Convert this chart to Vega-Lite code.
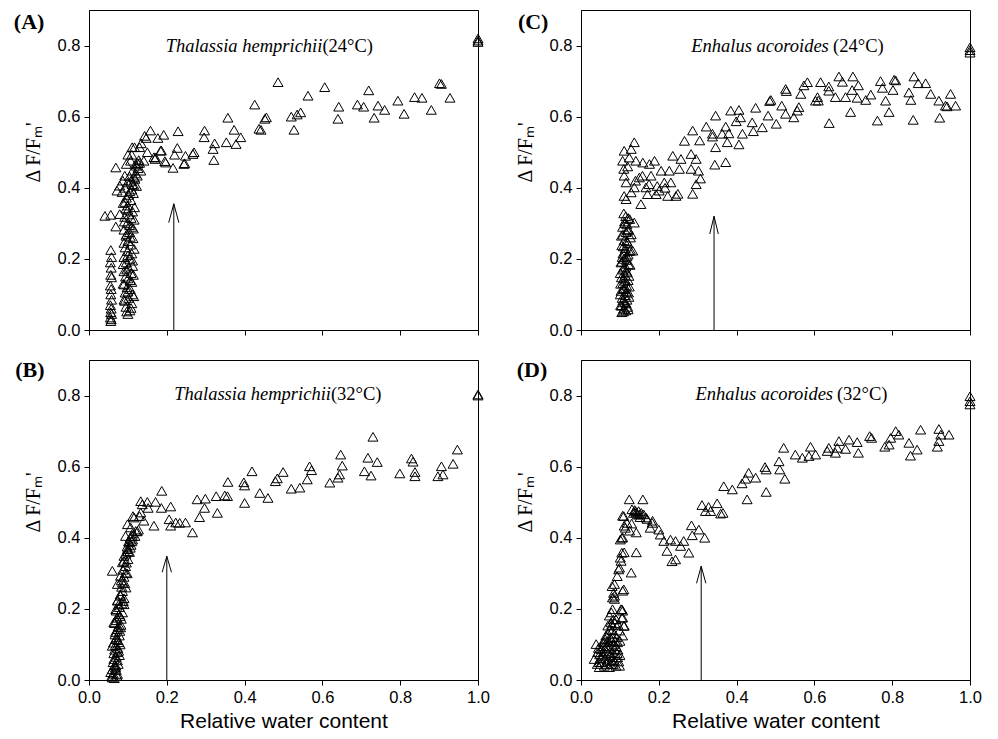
{
"$schema": "https://vega.github.io/schema/vega-lite/v6.json",
"background": "white",
"padding": {"left": 13, "top": 9, "right": 5, "bottom": 5},
"columns": 2,
"spacing": {"row": 19, "column": 24},
"datasets": {
"pts": [
{"p":"A","x":0.056,"y":0.225},{"p":"A","x":0.058,"y":0.205},{"p":"A","x":0.055,"y":0.19},{"p":"A","x":0.057,"y":0.175},{"p":"A","x":0.056,"y":0.155},{"p":"A","x":0.058,"y":0.148},{"p":"A","x":0.055,"y":0.125},{"p":"A","x":0.057,"y":0.115},{"p":"A","x":0.056,"y":0.1},{"p":"A","x":0.058,"y":0.085},{"p":"A","x":0.055,"y":0.07},{"p":"A","x":0.057,"y":0.06},{"p":"A","x":0.056,"y":0.05},{"p":"A","x":0.058,"y":0.045},{"p":"A","x":0.055,"y":0.035},{"p":"A","x":0.057,"y":0.03},{"p":"A","x":0.056,"y":0.025},
{"p":"A","x":0.041,"y":0.321},{"p":"A","x":0.056,"y":0.324},{"p":"A","x":0.069,"y":0.291},{"p":"A","x":0.079,"y":0.326},{"p":"A","x":0.072,"y":0.392},{"p":"A","x":0.079,"y":0.406},{"p":"A","x":0.069,"y":0.457},{"p":"A","x":0.087,"y":0.42},{"p":"A","x":0.092,"y":0.434},
{"p":"A","x":0.1,"y":0.045},{"p":"A","x":0.105,"y":0.055},{"p":"A","x":0.095,"y":0.065},{"p":"A","x":0.11,"y":0.075},{"p":"A","x":0.09,"y":0.085},{"p":"A","x":0.102,"y":0.09},{"p":"A","x":0.112,"y":0.1},{"p":"A","x":0.093,"y":0.105},{"p":"A","x":0.106,"y":0.115},{"p":"A","x":0.098,"y":0.12},{"p":"A","x":0.088,"y":0.13},{"p":"A","x":0.11,"y":0.135},{"p":"A","x":0.1,"y":0.145},{"p":"A","x":0.094,"y":0.15},{"p":"A","x":0.108,"y":0.16},{"p":"A","x":0.09,"y":0.165},{"p":"A","x":0.102,"y":0.175},{"p":"A","x":0.112,"y":0.18},{"p":"A","x":0.096,"y":0.19},{"p":"A","x":0.105,"y":0.2},{"p":"A","x":0.09,"y":0.205},{"p":"A","x":0.11,"y":0.215},{"p":"A","x":0.099,"y":0.222},{"p":"A","x":0.093,"y":0.232},{"p":"A","x":0.107,"y":0.24},{"p":"A","x":0.1,"y":0.25},{"p":"A","x":0.113,"y":0.258},{"p":"A","x":0.095,"y":0.265},{"p":"A","x":0.104,"y":0.275},{"p":"A","x":0.09,"y":0.282},{"p":"A","x":0.11,"y":0.29},{"p":"A","x":0.098,"y":0.3},{"p":"A","x":0.116,"y":0.31},{"p":"A","x":0.092,"y":0.318},{"p":"A","x":0.103,"y":0.325},{"p":"A","x":0.112,"y":0.333},{"p":"A","x":0.095,"y":0.342},{"p":"A","x":0.1,"y":0.35},{"p":"A","x":0.088,"y":0.357},{"p":"A","x":0.108,"y":0.365},{"p":"A","x":0.096,"y":0.372},{"p":"A","x":0.102,"y":0.38},{"p":"A","x":0.085,"y":0.388},{"p":"A","x":0.11,"y":0.395},{"p":"A","x":0.093,"y":0.4},{"p":"A","x":0.115,"y":0.408},{"p":"A","x":0.099,"y":0.415},{"p":"A","x":0.118,"y":0.425},{"p":"A","x":0.104,"y":0.432},{"p":"A","x":0.12,"y":0.44},{"p":"A","x":0.112,"y":0.448},{"p":"A","x":0.126,"y":0.455},{"p":"A","x":0.122,"y":0.462},{"p":"A","x":0.13,"y":0.47},{"p":"A","x":0.128,"y":0.478},
{"p":"A","x":0.097,"y":0.052},{"p":"A","x":0.108,"y":0.062},{"p":"A","x":0.092,"y":0.082},{"p":"A","x":0.115,"y":0.095},{"p":"A","x":0.1,"y":0.108},{"p":"A","x":0.09,"y":0.128},{"p":"A","x":0.106,"y":0.14},{"p":"A","x":0.114,"y":0.155},{"p":"A","x":0.097,"y":0.17},{"p":"A","x":0.088,"y":0.185},{"p":"A","x":0.112,"y":0.195},{"p":"A","x":0.1,"y":0.21},{"p":"A","x":0.116,"y":0.228},{"p":"A","x":0.09,"y":0.245},{"p":"A","x":0.106,"y":0.262},{"p":"A","x":0.097,"y":0.27},{"p":"A","x":0.114,"y":0.285},{"p":"A","x":0.104,"y":0.295},{"p":"A","x":0.091,"y":0.305},{"p":"A","x":0.108,"y":0.315},{"p":"A","x":0.1,"y":0.338},{"p":"A","x":0.117,"y":0.345},{"p":"A","x":0.093,"y":0.36},{"p":"A","x":0.114,"y":0.385},{"p":"A","x":0.105,"y":0.39},{"p":"A","x":0.122,"y":0.405},{"p":"A","x":0.108,"y":0.42},
{"p":"A","x":0.1,"y":0.493},{"p":"A","x":0.096,"y":0.467},{"p":"A","x":0.11,"y":0.493},{"p":"A","x":0.117,"y":0.514},{"p":"A","x":0.111,"y":0.514},{"p":"A","x":0.126,"y":0.469},{"p":"A","x":0.13,"y":0.514},{"p":"A","x":0.134,"y":0.525},{"p":"A","x":0.143,"y":0.546},{"p":"A","x":0.147,"y":0.54},{"p":"A","x":0.15,"y":0.5},{"p":"A","x":0.158,"y":0.561},{"p":"A","x":0.167,"y":0.486},{"p":"A","x":0.17,"y":0.481},{"p":"A","x":0.177,"y":0.54},{"p":"A","x":0.186,"y":0.505},{"p":"A","x":0.192,"y":0.549},{"p":"A","x":0.195,"y":0.475},{"p":"A","x":0.216,"y":0.456},{"p":"A","x":0.22,"y":0.493},{"p":"A","x":0.227,"y":0.512},{"p":"A","x":0.229,"y":0.559},{"p":"A","x":0.246,"y":0.469},{"p":"A","x":0.267,"y":0.495},{"p":"A","x":0.27,"y":0.5},{"p":"A","x":0.141,"y":0.476},{"p":"A","x":0.12,"y":0.467},{"p":"A","x":0.107,"y":0.476},{"p":"A","x":0.133,"y":0.448},{"p":"A","x":0.124,"y":0.434},{"p":"A","x":0.111,"y":0.41},{"p":"A","x":0.116,"y":0.429},{"p":"A","x":0.171,"y":0.485},{"p":"A","x":0.184,"y":0.504},{"p":"A","x":0.197,"y":0.471},{"p":"A","x":0.248,"y":0.49},{"p":"A","x":0.244,"y":0.467},
{"p":"A","x":0.296,"y":0.542},{"p":"A","x":0.297,"y":0.561},{"p":"A","x":0.319,"y":0.509},{"p":"A","x":0.321,"y":0.478},{"p":"A","x":0.323,"y":0.525},{"p":"A","x":0.353,"y":0.528},{"p":"A","x":0.357,"y":0.597},{"p":"A","x":0.373,"y":0.563},{"p":"A","x":0.378,"y":0.523},{"p":"A","x":0.39,"y":0.542},{"p":"A","x":0.426,"y":0.634},{"p":"A","x":0.437,"y":0.566},{"p":"A","x":0.442,"y":0.563},{"p":"A","x":0.452,"y":0.594},{"p":"A","x":0.456,"y":0.598},{"p":"A","x":0.486,"y":0.697},{"p":"A","x":0.52,"y":0.6},{"p":"A","x":0.527,"y":0.563},{"p":"A","x":0.535,"y":0.606},{"p":"A","x":0.544,"y":0.612},{"p":"A","x":0.563,"y":0.659},{"p":"A","x":0.606,"y":0.683},{"p":"A","x":0.64,"y":0.594},{"p":"A","x":0.642,"y":0.628},{"p":"A","x":0.69,"y":0.634},{"p":"A","x":0.706,"y":0.628},{"p":"A","x":0.719,"y":0.674},{"p":"A","x":0.733,"y":0.597},{"p":"A","x":0.743,"y":0.631},{"p":"A","x":0.76,"y":0.619},{"p":"A","x":0.794,"y":0.645},{"p":"A","x":0.81,"y":0.608},{"p":"A","x":0.837,"y":0.655},{"p":"A","x":0.856,"y":0.653},{"p":"A","x":0.88,"y":0.619},{"p":"A","x":0.901,"y":0.694},{"p":"A","x":0.906,"y":0.692},{"p":"A","x":0.928,"y":0.653},{"p":"A","x":1.0,"y":0.81},{"p":"A","x":1.0,"y":0.814},{"p":"A","x":1.0,"y":0.82},

{"p":"C","x":0.105,"y":0.05},{"p":"C","x":0.115,"y":0.055},{"p":"C","x":0.11,"y":0.06},{"p":"C","x":0.12,"y":0.065},{"p":"C","x":0.102,"y":0.07},{"p":"C","x":0.112,"y":0.078},{"p":"C","x":0.118,"y":0.085},{"p":"C","x":0.106,"y":0.09},{"p":"C","x":0.114,"y":0.098},{"p":"C","x":0.122,"y":0.105},{"p":"C","x":0.103,"y":0.11},{"p":"C","x":0.11,"y":0.118},{"p":"C","x":0.117,"y":0.125},{"p":"C","x":0.108,"y":0.132},{"p":"C","x":0.121,"y":0.14},{"p":"C","x":0.104,"y":0.148},{"p":"C","x":0.113,"y":0.155},{"p":"C","x":0.119,"y":0.162},{"p":"C","x":0.107,"y":0.17},{"p":"C","x":0.115,"y":0.178},{"p":"C","x":0.122,"y":0.185},{"p":"C","x":0.105,"y":0.192},{"p":"C","x":0.111,"y":0.2},{"p":"C","x":0.118,"y":0.207},{"p":"C","x":0.108,"y":0.215},{"p":"C","x":0.124,"y":0.222},{"p":"C","x":0.114,"y":0.23},{"p":"C","x":0.105,"y":0.238},{"p":"C","x":0.12,"y":0.245},{"p":"C","x":0.111,"y":0.252},{"p":"C","x":0.127,"y":0.26},{"p":"C","x":0.108,"y":0.268},{"p":"C","x":0.116,"y":0.275},{"p":"C","x":0.122,"y":0.283},{"p":"C","x":0.107,"y":0.29},{"p":"C","x":0.118,"y":0.297},{"p":"C","x":0.112,"y":0.305},{"p":"C","x":0.125,"y":0.312},{"p":"C","x":0.115,"y":0.32},{"p":"C","x":0.11,"y":0.328},{"p":"C","x":0.137,"y":0.302},{"p":"C","x":0.133,"y":0.223},{"p":"C","x":0.129,"y":0.269},{"p":"C","x":0.127,"y":0.225},
{"p":"C","x":0.109,"y":0.052},{"p":"C","x":0.121,"y":0.058},{"p":"C","x":0.104,"y":0.068},{"p":"C","x":0.116,"y":0.075},{"p":"C","x":0.108,"y":0.083},{"p":"C","x":0.123,"y":0.093},{"p":"C","x":0.101,"y":0.1},{"p":"C","x":0.117,"y":0.108},{"p":"C","x":0.109,"y":0.115},{"p":"C","x":0.124,"y":0.122},{"p":"C","x":0.102,"y":0.13},{"p":"C","x":0.114,"y":0.138},{"p":"C","x":0.11,"y":0.145},{"p":"C","x":0.123,"y":0.152},{"p":"C","x":0.101,"y":0.16},{"p":"C","x":0.116,"y":0.167},{"p":"C","x":0.11,"y":0.175},{"p":"C","x":0.126,"y":0.183},{"p":"C","x":0.103,"y":0.19},{"p":"C","x":0.117,"y":0.197},{"p":"C","x":0.106,"y":0.205},{"p":"C","x":0.121,"y":0.212},{"p":"C","x":0.112,"y":0.22},{"p":"C","x":0.109,"y":0.235},{"p":"C","x":0.118,"y":0.25},{"p":"C","x":0.104,"y":0.265},{"p":"C","x":0.12,"y":0.28},{"p":"C","x":0.113,"y":0.3},{"p":"C","x":0.121,"y":0.315},
{"p":"C","x":0.111,"y":0.504},{"p":"C","x":0.137,"y":0.528},{"p":"C","x":0.129,"y":0.509},{"p":"C","x":0.107,"y":0.476},{"p":"C","x":0.124,"y":0.485},{"p":"C","x":0.141,"y":0.476},{"p":"C","x":0.159,"y":0.471},{"p":"C","x":0.176,"y":0.467},{"p":"C","x":0.189,"y":0.476},{"p":"C","x":0.11,"y":0.453},{"p":"C","x":0.111,"y":0.434},{"p":"C","x":0.116,"y":0.415},{"p":"C","x":0.111,"y":0.377},{"p":"C","x":0.116,"y":0.368},{"p":"C","x":0.129,"y":0.387},{"p":"C","x":0.154,"y":0.354},{"p":"C","x":0.137,"y":0.401},{"p":"C","x":0.15,"y":0.429},{"p":"C","x":0.167,"y":0.401},{"p":"C","x":0.18,"y":0.434},{"p":"C","x":0.171,"y":0.382},{"p":"C","x":0.193,"y":0.382},{"p":"C","x":0.201,"y":0.392},{"p":"C","x":0.206,"y":0.448},{"p":"C","x":0.214,"y":0.415},{"p":"C","x":0.227,"y":0.448},{"p":"C","x":0.231,"y":0.415},{"p":"C","x":0.223,"y":0.377},{"p":"C","x":0.244,"y":0.377},{"p":"C","x":0.236,"y":0.49},{"p":"C","x":0.249,"y":0.383},{"p":"C","x":0.257,"y":0.481},{"p":"C","x":0.253,"y":0.453},{"p":"C","x":0.283,"y":0.453},{"p":"C","x":0.283,"y":0.495},{"p":"C","x":0.296,"y":0.481},{"p":"C","x":0.296,"y":0.41},{"p":"C","x":0.287,"y":0.383},{"p":"C","x":0.266,"y":0.532},{"p":"C","x":0.287,"y":0.561},{"p":"C","x":0.12,"y":0.46},{"p":"C","x":0.14,"y":0.42},{"p":"C","x":0.158,"y":0.434},{"p":"C","x":0.175,"y":0.41},{"p":"C","x":0.196,"y":0.405},{"p":"C","x":0.216,"y":0.4},
{"p":"C","x":0.305,"y":0.533},{"p":"C","x":0.322,"y":0.572},{"p":"C","x":0.338,"y":0.552},{"p":"C","x":0.338,"y":0.544},{"p":"C","x":0.346,"y":0.603},{"p":"C","x":0.346,"y":0.514},{"p":"C","x":0.344,"y":0.465},{"p":"C","x":0.372,"y":0.472},{"p":"C","x":0.372,"y":0.572},{"p":"C","x":0.38,"y":0.553},{"p":"C","x":0.363,"y":0.552},{"p":"C","x":0.376,"y":0.528},{"p":"C","x":0.385,"y":0.617},{"p":"C","x":0.406,"y":0.522},{"p":"C","x":0.302,"y":0.448},{"p":"C","x":0.307,"y":0.426},
{"p":"C","x":0.399,"y":0.587},{"p":"C","x":0.406,"y":0.619},{"p":"C","x":0.41,"y":0.598},{"p":"C","x":0.415,"y":0.552},{"p":"C","x":0.44,"y":0.584},{"p":"C","x":0.443,"y":0.559},{"p":"C","x":0.449,"y":0.625},{"p":"C","x":0.466,"y":0.57},{"p":"C","x":0.481,"y":0.603},{"p":"C","x":0.485,"y":0.644},{"p":"C","x":0.488,"y":0.647},{"p":"C","x":0.502,"y":0.58},{"p":"C","x":0.516,"y":0.631},{"p":"C","x":0.526,"y":0.608},{"p":"C","x":0.526,"y":0.678},{"p":"C","x":0.528,"y":0.672},{"p":"C","x":0.547,"y":0.598},{"p":"C","x":0.556,"y":0.617},{"p":"C","x":0.56,"y":0.627},{"p":"C","x":0.565,"y":0.664},{"p":"C","x":0.573,"y":0.688},{"p":"C","x":0.582,"y":0.697},{"p":"C","x":0.603,"y":0.645},{"p":"C","x":0.608,"y":0.655},{"p":"C","x":0.61,"y":0.645},{"p":"C","x":0.616,"y":0.697},{"p":"C","x":0.637,"y":0.685},{"p":"C","x":0.637,"y":0.673},{"p":"C","x":0.638,"y":0.582},{"p":"C","x":0.654,"y":0.655},{"p":"C","x":0.663,"y":0.713},{"p":"C","x":0.672,"y":0.698},{"p":"C","x":0.68,"y":0.655},{"p":"C","x":0.693,"y":0.613},{"p":"C","x":0.697,"y":0.675},{"p":"C","x":0.699,"y":0.713},{"p":"C","x":0.71,"y":0.653},{"p":"C","x":0.713,"y":0.688},{"p":"C","x":0.732,"y":0.647},{"p":"C","x":0.745,"y":0.662},{"p":"C","x":0.762,"y":0.589},{"p":"C","x":0.77,"y":0.7},{"p":"C","x":0.775,"y":0.681},{"p":"C","x":0.783,"y":0.645},{"p":"C","x":0.792,"y":0.613},{"p":"C","x":0.802,"y":0.675},{"p":"C","x":0.805,"y":0.704},{"p":"C","x":0.809,"y":0.702},{"p":"C","x":0.843,"y":0.668},{"p":"C","x":0.848,"y":0.647},{"p":"C","x":0.854,"y":0.591},{"p":"C","x":0.856,"y":0.713},{"p":"C","x":0.867,"y":0.694},{"p":"C","x":0.886,"y":0.694},{"p":"C","x":0.899,"y":0.664},{"p":"C","x":0.92,"y":0.645},{"p":"C","x":0.922,"y":0.597},{"p":"C","x":0.937,"y":0.631},{"p":"C","x":0.941,"y":0.629},{"p":"C","x":0.95,"y":0.664},{"p":"C","x":0.963,"y":0.631},{"p":"C","x":1.0,"y":0.78},{"p":"C","x":1.0,"y":0.787},{"p":"C","x":1.0,"y":0.795},

{"p":"B","x":0.058,"y":0.01},{"p":"B","x":0.065,"y":0.005},{"p":"B","x":0.072,"y":0.012},{"p":"B","x":0.06,"y":0.03},{"p":"B","x":0.068,"y":0.035},{"p":"B","x":0.075,"y":0.045},{"p":"B","x":0.062,"y":0.05},{"p":"B","x":0.07,"y":0.065},{"p":"B","x":0.078,"y":0.07},{"p":"B","x":0.066,"y":0.085},{"p":"B","x":0.074,"y":0.09},{"p":"B","x":0.08,"y":0.1},{"p":"B","x":0.063,"y":0.105},{"p":"B","x":0.071,"y":0.12},{"p":"B","x":0.078,"y":0.125},{"p":"B","x":0.068,"y":0.135},{"p":"B","x":0.075,"y":0.15},{"p":"B","x":0.082,"y":0.155},{"p":"B","x":0.066,"y":0.16},{"p":"B","x":0.072,"y":0.175},{"p":"B","x":0.08,"y":0.18},{"p":"B","x":0.086,"y":0.19},{"p":"B","x":0.07,"y":0.195},{"p":"B","x":0.078,"y":0.205},{"p":"B","x":0.084,"y":0.215},{"p":"B","x":0.074,"y":0.225},{"p":"B","x":0.09,"y":0.23},{"p":"B","x":0.08,"y":0.24},{"p":"B","x":0.086,"y":0.25},{"p":"B","x":0.095,"y":0.26},{"p":"B","x":0.083,"y":0.28},{"p":"B","x":0.09,"y":0.29},{"p":"B","x":0.098,"y":0.3},{"p":"B","x":0.087,"y":0.31},{"p":"B","x":0.094,"y":0.32},{"p":"B","x":0.09,"y":0.335},{"p":"B","x":0.1,"y":0.34},{"p":"B","x":0.095,"y":0.355},{"p":"B","x":0.104,"y":0.36},{"p":"B","x":0.098,"y":0.375},{"p":"B","x":0.108,"y":0.38},{"p":"B","x":0.102,"y":0.39},{"p":"B","x":0.112,"y":0.395},{"p":"B","x":0.106,"y":0.4},{"p":"B","x":0.118,"y":0.405},{"p":"B","x":0.112,"y":0.412},{"p":"B","x":0.124,"y":0.418},
{"p":"B","x":0.062,"y":0.018},{"p":"B","x":0.07,"y":0.028},{"p":"B","x":0.066,"y":0.042},{"p":"B","x":0.073,"y":0.055},{"p":"B","x":0.064,"y":0.075},{"p":"B","x":0.076,"y":0.082},{"p":"B","x":0.068,"y":0.098},{"p":"B","x":0.074,"y":0.112},{"p":"B","x":0.067,"y":0.128},{"p":"B","x":0.079,"y":0.138},{"p":"B","x":0.07,"y":0.168},{"p":"B","x":0.083,"y":0.172},{"p":"B","x":0.076,"y":0.212},{"p":"B","x":0.088,"y":0.222},{"p":"B","x":0.084,"y":0.262},{"p":"B","x":0.092,"y":0.272},{"p":"B","x":0.096,"y":0.33},{"p":"B","x":0.1,"y":0.362},{"p":"B","x":0.106,"y":0.372},{"p":"B","x":0.11,"y":0.39},
{"p":"B","x":0.06,"y":0.307},{"p":"B","x":0.073,"y":0.27},{"p":"B","x":0.081,"y":0.237},{"p":"B","x":0.09,"y":0.213},{"p":"B","x":0.073,"y":0.223},{"p":"B","x":0.069,"y":0.199},{"p":"B","x":0.077,"y":0.185},{"p":"B","x":0.064,"y":0.162},{"p":"B","x":0.073,"y":0.143},{"p":"B","x":0.081,"y":0.148},{"p":"B","x":0.069,"y":0.115},{"p":"B","x":0.077,"y":0.106},{"p":"B","x":0.06,"y":0.096},{"p":"B","x":0.073,"y":0.078},{"p":"B","x":0.064,"y":0.059},{"p":"B","x":0.069,"y":0.04},{"p":"B","x":0.056,"y":0.022},{"p":"B","x":0.073,"y":0.017},{"p":"B","x":0.06,"y":0.007},{"p":"B","x":0.081,"y":0.293},{"p":"B","x":0.086,"y":0.274},{"p":"B","x":0.094,"y":0.302},{"p":"B","x":0.086,"y":0.331},{"p":"B","x":0.09,"y":0.349},{"p":"B","x":0.099,"y":0.368},{"p":"B","x":0.103,"y":0.387},{"p":"B","x":0.111,"y":0.405},{"p":"B","x":0.094,"y":0.405},{"p":"B","x":0.12,"y":0.419},{"p":"B","x":0.107,"y":0.429},{"p":"B","x":0.099,"y":0.438},{"p":"B","x":0.116,"y":0.457},{"p":"B","x":0.133,"y":0.471},{"p":"B","x":0.137,"y":0.494},{"p":"B","x":0.15,"y":0.501},{"p":"B","x":0.133,"y":0.503},{"p":"B","x":0.171,"y":0.501},{"p":"B","x":0.187,"y":0.532},{"p":"B","x":0.141,"y":0.448},{"p":"B","x":0.167,"y":0.434},{"p":"B","x":0.21,"y":0.488},{"p":"B","x":0.206,"y":0.452},{"p":"B","x":0.21,"y":0.434},{"p":"B","x":0.223,"y":0.443},{"p":"B","x":0.248,"y":0.443},{"p":"B","x":0.266,"y":0.415},
{"p":"B","x":0.113,"y":0.461},{"p":"B","x":0.127,"y":0.423},{"p":"B","x":0.13,"y":0.461},{"p":"B","x":0.152,"y":0.484},{"p":"B","x":0.186,"y":0.484},{"p":"B","x":0.233,"y":0.442},{"p":"B","x":0.278,"y":0.508},{"p":"B","x":0.284,"y":0.458},{"p":"B","x":0.297,"y":0.484},{"p":"B","x":0.299,"y":0.51},{"p":"B","x":0.327,"y":0.517},{"p":"B","x":0.33,"y":0.47},{"p":"B","x":0.349,"y":0.519},{"p":"B","x":0.356,"y":0.517},{"p":"B","x":0.357,"y":0.557},{"p":"B","x":0.398,"y":0.556},{"p":"B","x":0.4,"y":0.547},{"p":"B","x":0.4,"y":0.498},{"p":"B","x":0.419,"y":0.587},{"p":"B","x":0.439,"y":0.526},{"p":"B","x":0.46,"y":0.512},{"p":"B","x":0.479,"y":0.559},{"p":"B","x":0.484,"y":0.567},{"p":"B","x":0.499,"y":0.585},{"p":"B","x":0.52,"y":0.538},{"p":"B","x":0.542,"y":0.541},{"p":"B","x":0.561,"y":0.564},{"p":"B","x":0.567,"y":0.601},{"p":"B","x":0.572,"y":0.59},{"p":"B","x":0.619,"y":0.555},{"p":"B","x":0.64,"y":0.569},{"p":"B","x":0.644,"y":0.578},{"p":"B","x":0.647,"y":0.634},{"p":"B","x":0.651,"y":0.603},{"p":"B","x":0.708,"y":0.587},{"p":"B","x":0.717,"y":0.625},{"p":"B","x":0.725,"y":0.575},{"p":"B","x":0.73,"y":0.684},{"p":"B","x":0.741,"y":0.613},{"p":"B","x":0.799,"y":0.581},{"p":"B","x":0.829,"y":0.623},{"p":"B","x":0.833,"y":0.614},{"p":"B","x":0.838,"y":0.585},{"p":"B","x":0.838,"y":0.573},{"p":"B","x":0.897,"y":0.573},{"p":"B","x":0.906,"y":0.601},{"p":"B","x":0.91,"y":0.578},{"p":"B","x":0.936,"y":0.608},{"p":"B","x":0.947,"y":0.648},{"p":"B","x":1.0,"y":0.803},{"p":"B","x":1.0,"y":0.8},

{"p":"D","x":0.039,"y":0.101},{"p":"D","x":0.043,"y":0.078},{"p":"D","x":0.047,"y":0.05},{"p":"D","x":0.047,"y":0.036},{"p":"D","x":0.056,"y":0.068},{"p":"D","x":0.06,"y":0.106},{"p":"D","x":0.064,"y":0.125},{"p":"D","x":0.069,"y":0.153},{"p":"D","x":0.073,"y":0.181},{"p":"D","x":0.081,"y":0.199},{"p":"D","x":0.086,"y":0.237},{"p":"D","x":0.086,"y":0.228},{"p":"D","x":0.107,"y":0.195},{"p":"D","x":0.111,"y":0.153},{"p":"D","x":0.107,"y":0.125},{"p":"D","x":0.094,"y":0.106},{"p":"D","x":0.086,"y":0.087},{"p":"D","x":0.081,"y":0.064},{"p":"D","x":0.09,"y":0.04},{"p":"D","x":0.077,"y":0.045},{"p":"D","x":0.069,"y":0.054},{"p":"D","x":0.06,"y":0.04},{"p":"D","x":0.051,"y":0.087},{"p":"D","x":0.073,"y":0.106},{"p":"D","x":0.064,"y":0.082},{"p":"D","x":0.081,"y":0.12},{"p":"D","x":0.099,"y":0.139},{"p":"D","x":0.077,"y":0.162},{"p":"D","x":0.09,"y":0.171},{"p":"D","x":0.094,"y":0.064},{"p":"D","x":0.099,"y":0.04},{"p":"D","x":0.034,"y":0.059},{"p":"D","x":0.073,"y":0.036},{"p":"D","x":0.086,"y":0.054},{"p":"D","x":0.056,"y":0.106},{"p":"D","x":0.045,"y":0.09},{"p":"D","x":0.065,"y":0.095},{"p":"D","x":0.075,"y":0.07},{"p":"D","x":0.085,"y":0.1},{"p":"D","x":0.095,"y":0.085},{"p":"D","x":0.07,"y":0.13},{"p":"D","x":0.08,"y":0.14},{"p":"D","x":0.092,"y":0.12},{"p":"D","x":0.062,"y":0.06},{"p":"D","x":0.052,"y":0.05},{"p":"D","x":0.1,"y":0.07},{"p":"D","x":0.083,"y":0.17},{"p":"D","x":0.078,"y":0.19},
{"p":"D","x":0.042,"y":0.045},{"p":"D","x":0.05,"y":0.062},{"p":"D","x":0.058,"y":0.08},{"p":"D","x":0.066,"y":0.045},{"p":"D","x":0.072,"y":0.09},{"p":"D","x":0.079,"y":0.055},{"p":"D","x":0.084,"y":0.075},{"p":"D","x":0.09,"y":0.095},{"p":"D","x":0.097,"y":0.052},{"p":"D","x":0.088,"y":0.11},{"p":"D","x":0.076,"y":0.118},{"p":"D","x":0.068,"y":0.11},{"p":"D","x":0.058,"y":0.095},{"p":"D","x":0.048,"y":0.072},{"p":"D","x":0.083,"y":0.045},{"p":"D","x":0.093,"y":0.075},{"p":"D","x":0.071,"y":0.075},{"p":"D","x":0.062,"y":0.115},{"p":"D","x":0.085,"y":0.13},{"p":"D","x":0.079,"y":0.155},{"p":"D","x":0.087,"y":0.16},{"p":"D","x":0.074,"y":0.142},{"p":"D","x":0.095,"y":0.155},{"p":"D","x":0.1,"y":0.11},
{"p":"D","x":0.084,"y":0.245},{"p":"D","x":0.08,"y":0.264},{"p":"D","x":0.093,"y":0.292},{"p":"D","x":0.097,"y":0.311},{"p":"D","x":0.105,"y":0.199},{"p":"D","x":0.105,"y":0.175},{"p":"D","x":0.11,"y":0.152},{"p":"D","x":0.11,"y":0.255},{"p":"D","x":0.124,"y":0.508},{"p":"D","x":0.159,"y":0.508},{"p":"D","x":0.107,"y":0.462},{"p":"D","x":0.142,"y":0.471},{"p":"D","x":0.15,"y":0.466},{"p":"D","x":0.167,"y":0.457},{"p":"D","x":0.184,"y":0.448},{"p":"D","x":0.111,"y":0.434},{"p":"D","x":0.107,"y":0.401},{"p":"D","x":0.142,"y":0.415},{"p":"D","x":0.111,"y":0.359},{"p":"D","x":0.142,"y":0.359},{"p":"D","x":0.103,"y":0.335},{"p":"D","x":0.099,"y":0.316},{"p":"D","x":0.129,"y":0.302},{"p":"D","x":0.086,"y":0.27},{"p":"D","x":0.107,"y":0.251},{"p":"D","x":0.081,"y":0.232},{"p":"D","x":0.103,"y":0.199},{"p":"D","x":0.107,"y":0.176},{"p":"D","x":0.105,"y":0.4},{"p":"D","x":0.101,"y":0.344},{"p":"D","x":0.101,"y":0.395},{"p":"D","x":0.105,"y":0.358},{"p":"D","x":0.118,"y":0.442},{"p":"D","x":0.114,"y":0.428},{"p":"D","x":0.11,"y":0.461},{"p":"D","x":0.131,"y":0.48},{"p":"D","x":0.14,"y":0.475},{"p":"D","x":0.148,"y":0.475},{"p":"D","x":0.161,"y":0.466},{"p":"D","x":0.17,"y":0.453},{"p":"D","x":0.178,"y":0.428},{"p":"D","x":0.183,"y":0.442},{"p":"D","x":0.135,"y":0.47},{"p":"D","x":0.145,"y":0.465},{"p":"D","x":0.155,"y":0.47},{"p":"D","x":0.138,"y":0.478},{"p":"D","x":0.152,"y":0.458},{"p":"D","x":0.125,"y":0.42},{"p":"D","x":0.13,"y":0.44},
{"p":"D","x":0.2,"y":0.423},{"p":"D","x":0.204,"y":0.409},{"p":"D","x":0.213,"y":0.391},{"p":"D","x":0.221,"y":0.363},{"p":"D","x":0.23,"y":0.395},{"p":"D","x":0.234,"y":0.334},{"p":"D","x":0.243,"y":0.339},{"p":"D","x":0.243,"y":0.391},{"p":"D","x":0.256,"y":0.377},{"p":"D","x":0.264,"y":0.391},{"p":"D","x":0.277,"y":0.358},{"p":"D","x":0.286,"y":0.407},{"p":"D","x":0.284,"y":0.435},{"p":"D","x":0.303,"y":0.423},{"p":"D","x":0.318,"y":0.4},{"p":"D","x":0.311,"y":0.492},{"p":"D","x":0.32,"y":0.475},{"p":"D","x":0.328,"y":0.487},{"p":"D","x":0.333,"y":0.475},{"p":"D","x":0.35,"y":0.497},{"p":"D","x":0.359,"y":0.468},{"p":"D","x":0.365,"y":0.47},{"p":"D","x":0.367,"y":0.545},{"p":"D","x":0.389,"y":0.536},{"p":"D","x":0.414,"y":0.553},{"p":"D","x":0.423,"y":0.566},{"p":"D","x":0.427,"y":0.508},{"p":"D","x":0.431,"y":0.583},{"p":"D","x":0.449,"y":0.569},{"p":"D","x":0.473,"y":0.599},{"p":"D","x":0.476,"y":0.592},{"p":"D","x":0.476,"y":0.529},{"p":"D","x":0.509,"y":0.615},{"p":"D","x":0.511,"y":0.592},{"p":"D","x":0.521,"y":0.653},{"p":"D","x":0.524,"y":0.566},{"p":"D","x":0.551,"y":0.634},{"p":"D","x":0.569,"y":0.625},{"p":"D","x":0.586,"y":0.63},{"p":"D","x":0.59,"y":0.656},{"p":"D","x":0.603,"y":0.634},{"p":"D","x":0.633,"y":0.644},{"p":"D","x":0.637,"y":0.653},{"p":"D","x":0.654,"y":0.639},{"p":"D","x":0.659,"y":0.653},{"p":"D","x":0.663,"y":0.672},{"p":"D","x":0.68,"y":0.65},{"p":"D","x":0.689,"y":0.676},{"p":"D","x":0.71,"y":0.669},{"p":"D","x":0.713,"y":0.639},{"p":"D","x":0.742,"y":0.686},{"p":"D","x":0.747,"y":0.681},{"p":"D","x":0.781,"y":0.656},{"p":"D","x":0.792,"y":0.662},{"p":"D","x":0.796,"y":0.681},{"p":"D","x":0.809,"y":0.7},{"p":"D","x":0.817,"y":0.69},{"p":"D","x":0.843,"y":0.667},{"p":"D","x":0.847,"y":0.631},{"p":"D","x":0.864,"y":0.648},{"p":"D","x":0.873,"y":0.704},{"p":"D","x":0.916,"y":0.656},{"p":"D","x":0.92,"y":0.672},{"p":"D","x":0.92,"y":0.706},{"p":"D","x":0.925,"y":0.69},{"p":"D","x":0.946,"y":0.69},{"p":"D","x":1.0,"y":0.775},{"p":"D","x":1.0,"y":0.784},{"p":"D","x":1.0,"y":0.798}
],
"arrows": [
{"p":"A","x":0.218,"y":0,"x2":0.218,"y2":0.355},{"p":"A","x":0.218,"y":0.355,"x2":0.205,"y2":0.302},{"p":"A","x":0.218,"y":0.355,"x2":0.231,"y2":0.302},
{"p":"B","x":0.2,"y":0,"x2":0.2,"y2":0.348},{"p":"B","x":0.2,"y":0.348,"x2":0.188,"y2":0.303},{"p":"B","x":0.2,"y":0.348,"x2":0.212,"y2":0.303},
{"p":"C","x":0.342,"y":0,"x2":0.342,"y2":0.32},{"p":"C","x":0.342,"y":0.32,"x2":0.331,"y2":0.27},{"p":"C","x":0.342,"y":0.32,"x2":0.353,"y2":0.27},
{"p":"D","x":0.309,"y":0,"x2":0.309,"y2":0.32},{"p":"D","x":0.309,"y":0.32,"x2":0.297,"y2":0.272},{"p":"D","x":0.309,"y":0.32,"x2":0.321,"y2":0.272}
],
"ann": [
{"p":"A","xs":0.6,"xt":0.6,"y":0.8,"species":"Thalassia hemprichii","temp":"(24°C)","lx":-0.154,"ly":0.865,"label":"(A)"},
{"p":"B","xs":0.622,"xt":0.622,"y":0.805,"species":"Thalassia hemprichii","temp":"(32°C)","lx":-0.152,"ly":0.871,"label":"(B)"},
{"p":"C","xs":0.637,"xt":0.648,"y":0.8,"species":"Enhalus acoroides","temp":"(24°C)","lx":-0.123,"ly":0.865,"label":"(C)"},
{"p":"D","xs":0.648,"xt":0.658,"y":0.805,"species":"Enhalus acoroides","temp":"(32°C)","lx":-0.126,"ly":0.871,"label":"(D)"}
]
},
"concat": [
{"width":389,"height":320,"layer":[
 {"data":{"name":"pts"},"transform":[{"filter":"datum.p==='A'"}],"mark":{"type":"point","shape":"triangle-up","size":100,"filled":false,"stroke":"#000","strokeWidth":1,"opacity":1},
  "encoding":{"x":{"field":"x","type":"quantitative","scale":{"domain":[0,1],"nice":false,"zero":false},"axis":{"values":[0,0.2,0.4,0.6,0.8,1],"labels":false,"title":null}},
   "y":{"field":"y","type":"quantitative","scale":{"domain":[0,0.9],"nice":false},"axis":{"values":[0,0.2,0.4,0.6,0.8],"format":".1f","title":"Δ F/Fₘ'"}}}},
 {"data":{"name":"arrows"},"transform":[{"filter":"datum.p==='A'"}],"mark":{"type":"rule","color":"#000","strokeWidth":1},
  "encoding":{"x":{"field":"x","type":"quantitative","scale":{"domain":[0,1],"nice":false,"zero":false}},"y":{"field":"y","type":"quantitative","scale":{"domain":[0,0.9],"nice":false}},"x2":{"field":"x2"},"y2":{"field":"y2"}}},
 {"data":{"name":"ann"},"transform":[{"filter":"datum.p==='A'"}],"mark":{"type":"text","font":"Liberation Serif","fontStyle":"italic","fontSize":18.5,"align":"right","baseline":"middle","color":"#000"},
  "encoding":{"x":{"field":"xs","type":"quantitative","scale":{"domain":[0,1],"nice":false,"zero":false}},"y":{"field":"y","type":"quantitative","scale":{"domain":[0,0.9],"nice":false}},"text":{"field":"species"}}},
 {"data":{"name":"ann"},"transform":[{"filter":"datum.p==='A'"}],"mark":{"type":"text","font":"Liberation Serif","fontSize":18.5,"align":"left","baseline":"middle","color":"#000"},
  "encoding":{"x":{"field":"xt","type":"quantitative","scale":{"domain":[0,1],"nice":false,"zero":false}},"y":{"field":"y","type":"quantitative","scale":{"domain":[0,0.9],"nice":false}},"text":{"field":"temp"}}},
 {"data":{"name":"ann"},"transform":[{"filter":"datum.p==='A'"}],"mark":{"type":"text","font":"Liberation Serif","fontWeight":"bold","fontSize":22,"align":"center","baseline":"middle","color":"#000"},
  "encoding":{"x":{"field":"lx","type":"quantitative","scale":{"domain":[0,1],"nice":false,"zero":false}},"y":{"field":"ly","type":"quantitative","scale":{"domain":[0,0.9],"nice":false}},"text":{"field":"label"}}}
]},
{"width":389,"height":320,"layer":[
 {"data":{"name":"pts"},"transform":[{"filter":"datum.p==='C'"}],"mark":{"type":"point","shape":"triangle-up","size":100,"filled":false,"stroke":"#000","strokeWidth":1,"opacity":1},
  "encoding":{"x":{"field":"x","type":"quantitative","scale":{"domain":[0,1],"nice":false,"zero":false},"axis":{"values":[0,0.2,0.4,0.6,0.8,1],"labels":false,"title":null}},
   "y":{"field":"y","type":"quantitative","scale":{"domain":[0,0.9],"nice":false},"axis":{"values":[0,0.2,0.4,0.6,0.8],"format":".1f","title":"Δ F/Fₘ'"}}}},
 {"data":{"name":"arrows"},"transform":[{"filter":"datum.p==='C'"}],"mark":{"type":"rule","color":"#000","strokeWidth":1},
  "encoding":{"x":{"field":"x","type":"quantitative","scale":{"domain":[0,1],"nice":false,"zero":false}},"y":{"field":"y","type":"quantitative","scale":{"domain":[0,0.9],"nice":false}},"x2":{"field":"x2"},"y2":{"field":"y2"}}},
 {"data":{"name":"ann"},"transform":[{"filter":"datum.p==='C'"}],"mark":{"type":"text","font":"Liberation Serif","fontStyle":"italic","fontSize":18.5,"align":"right","baseline":"middle","color":"#000"},
  "encoding":{"x":{"field":"xs","type":"quantitative","scale":{"domain":[0,1],"nice":false,"zero":false}},"y":{"field":"y","type":"quantitative","scale":{"domain":[0,0.9],"nice":false}},"text":{"field":"species"}}},
 {"data":{"name":"ann"},"transform":[{"filter":"datum.p==='C'"}],"mark":{"type":"text","font":"Liberation Serif","fontSize":18.5,"align":"left","baseline":"middle","color":"#000"},
  "encoding":{"x":{"field":"xt","type":"quantitative","scale":{"domain":[0,1],"nice":false,"zero":false}},"y":{"field":"y","type":"quantitative","scale":{"domain":[0,0.9],"nice":false}},"text":{"field":"temp"}}},
 {"data":{"name":"ann"},"transform":[{"filter":"datum.p==='C'"}],"mark":{"type":"text","font":"Liberation Serif","fontWeight":"bold","fontSize":22,"align":"center","baseline":"middle","color":"#000"},
  "encoding":{"x":{"field":"lx","type":"quantitative","scale":{"domain":[0,1],"nice":false,"zero":false}},"y":{"field":"ly","type":"quantitative","scale":{"domain":[0,0.9],"nice":false}},"text":{"field":"label"}}}
]},
{"width":389,"height":320,"layer":[
 {"data":{"name":"pts"},"transform":[{"filter":"datum.p==='B'"}],"mark":{"type":"point","shape":"triangle-up","size":100,"filled":false,"stroke":"#000","strokeWidth":1,"opacity":1},
  "encoding":{"x":{"field":"x","type":"quantitative","scale":{"domain":[0,1],"nice":false,"zero":false},"axis":{"values":[0,0.2,0.4,0.6,0.8,1],"format":".1f","title":"Relative water content"}},
   "y":{"field":"y","type":"quantitative","scale":{"domain":[0,0.9],"nice":false},"axis":{"values":[0,0.2,0.4,0.6,0.8],"format":".1f","title":"Δ F/Fₘ'"}}}},
 {"data":{"name":"arrows"},"transform":[{"filter":"datum.p==='B'"}],"mark":{"type":"rule","color":"#000","strokeWidth":1},
  "encoding":{"x":{"field":"x","type":"quantitative","scale":{"domain":[0,1],"nice":false,"zero":false}},"y":{"field":"y","type":"quantitative","scale":{"domain":[0,0.9],"nice":false}},"x2":{"field":"x2"},"y2":{"field":"y2"}}},
 {"data":{"name":"ann"},"transform":[{"filter":"datum.p==='B'"}],"mark":{"type":"text","font":"Liberation Serif","fontStyle":"italic","fontSize":18.5,"align":"right","baseline":"middle","color":"#000"},
  "encoding":{"x":{"field":"xs","type":"quantitative","scale":{"domain":[0,1],"nice":false,"zero":false}},"y":{"field":"y","type":"quantitative","scale":{"domain":[0,0.9],"nice":false}},"text":{"field":"species"}}},
 {"data":{"name":"ann"},"transform":[{"filter":"datum.p==='B'"}],"mark":{"type":"text","font":"Liberation Serif","fontSize":18.5,"align":"left","baseline":"middle","color":"#000"},
  "encoding":{"x":{"field":"xt","type":"quantitative","scale":{"domain":[0,1],"nice":false,"zero":false}},"y":{"field":"y","type":"quantitative","scale":{"domain":[0,0.9],"nice":false}},"text":{"field":"temp"}}},
 {"data":{"name":"ann"},"transform":[{"filter":"datum.p==='B'"}],"mark":{"type":"text","font":"Liberation Serif","fontWeight":"bold","fontSize":22,"align":"center","baseline":"middle","color":"#000"},
  "encoding":{"x":{"field":"lx","type":"quantitative","scale":{"domain":[0,1],"nice":false,"zero":false}},"y":{"field":"ly","type":"quantitative","scale":{"domain":[0,0.9],"nice":false}},"text":{"field":"label"}}}
]},
{"width":389,"height":320,"layer":[
 {"data":{"name":"pts"},"transform":[{"filter":"datum.p==='D'"}],"mark":{"type":"point","shape":"triangle-up","size":100,"filled":false,"stroke":"#000","strokeWidth":1,"opacity":1},
  "encoding":{"x":{"field":"x","type":"quantitative","scale":{"domain":[0,1],"nice":false,"zero":false},"axis":{"values":[0,0.2,0.4,0.6,0.8,1],"format":".1f","title":"Relative water content"}},
   "y":{"field":"y","type":"quantitative","scale":{"domain":[0,0.9],"nice":false},"axis":{"values":[0,0.2,0.4,0.6,0.8],"format":".1f","title":"Δ F/Fₘ'"}}}},
 {"data":{"name":"arrows"},"transform":[{"filter":"datum.p==='D'"}],"mark":{"type":"rule","color":"#000","strokeWidth":1},
  "encoding":{"x":{"field":"x","type":"quantitative","scale":{"domain":[0,1],"nice":false,"zero":false}},"y":{"field":"y","type":"quantitative","scale":{"domain":[0,0.9],"nice":false}},"x2":{"field":"x2"},"y2":{"field":"y2"}}},
 {"data":{"name":"ann"},"transform":[{"filter":"datum.p==='D'"}],"mark":{"type":"text","font":"Liberation Serif","fontStyle":"italic","fontSize":18.5,"align":"right","baseline":"middle","color":"#000"},
  "encoding":{"x":{"field":"xs","type":"quantitative","scale":{"domain":[0,1],"nice":false,"zero":false}},"y":{"field":"y","type":"quantitative","scale":{"domain":[0,0.9],"nice":false}},"text":{"field":"species"}}},
 {"data":{"name":"ann"},"transform":[{"filter":"datum.p==='D'"}],"mark":{"type":"text","font":"Liberation Serif","fontSize":18.5,"align":"left","baseline":"middle","color":"#000"},
  "encoding":{"x":{"field":"xt","type":"quantitative","scale":{"domain":[0,1],"nice":false,"zero":false}},"y":{"field":"y","type":"quantitative","scale":{"domain":[0,0.9],"nice":false}},"text":{"field":"temp"}}},
 {"data":{"name":"ann"},"transform":[{"filter":"datum.p==='D'"}],"mark":{"type":"text","font":"Liberation Serif","fontWeight":"bold","fontSize":22,"align":"center","baseline":"middle","color":"#000"},
  "encoding":{"x":{"field":"lx","type":"quantitative","scale":{"domain":[0,1],"nice":false,"zero":false}},"y":{"field":"ly","type":"quantitative","scale":{"domain":[0,0.9],"nice":false}},"text":{"field":"label"}}}
]}
],
"config": {
 "view": {"stroke": "#000", "strokeWidth": 1},
 "axis": {"domainColor": "#000", "tickColor": "#000", "labelColor": "#000", "titleColor": "#000", "labelFont": "Liberation Sans", "labelFontSize": 16.5, "tickSize": 5, "labelPadding": 4, "grid": false, "titleFontWeight": "normal", "labelFlush": false},
 "axisX": {"titleFont": "Liberation Sans", "titleFontSize": 21, "titlePadding": 5},
 "axisY": {"titleFont": "Liberation Serif", "titleFontSize": 20, "titlePadding": 14, "titleY": 142}
}
}
